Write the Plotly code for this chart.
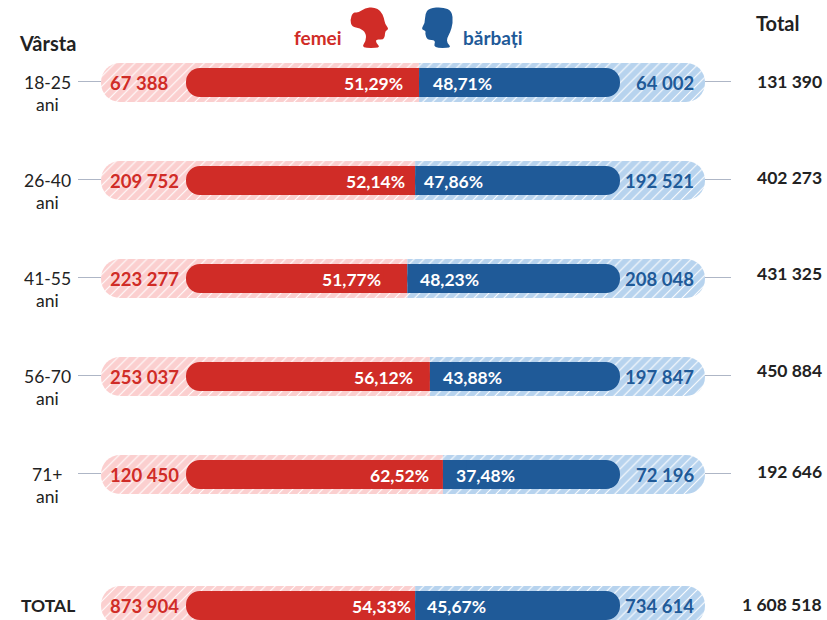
import plotly.graph_objects as go

# ---- data ----
age_groups = ["18-25", "26-40", "41-55", "56-70", "71+", "TOTAL"]
women = ["67 388", "209 752", "223 277", "253 037", "120 450", "873 904"]
men = ["64 002", "192 521", "208 048", "197 847", "72 196", "734 614"]
totals = ["131 390", "402 273", "431 325", "450 884", "192 646", "1 608 518"]
women_pct = ["51,29%", "52,14%", "51,77%", "56,12%", "62,52%", "54,33%"]
men_pct = ["48,71%", "47,86%", "48,23%", "43,88%", "37,48%", "45,67%"]
# share of the dark bar drawn in red, as measured in the picture
drawn_women_share = [53.7, 52.8, 51.0, 56.2, 59.2, 52.8]

# ---- layout ----
W, H = 827, 620
BAR_L, BAR_R = 186, 620
UNIT = (BAR_R - BAR_L) / 100
def X(px):
    return (px - BAR_L) / UNIT

row_y = [82.5, 180.5, 278.5, 376.5, 474.5, 605.5]
RED, BLUE = "#d02c27", "#1f5a98"
PALE_RED, PALE_BLUE = "#fbcfcf", "#b7d3ee"
INK = "#222222"
FONT = "Lato"
pill_l, pill_r = X(101), X(705)

def pill(base, ends, color, radius=19):
    return go.Bar(orientation="h", y=row_y, base=base,
                  x=[e - b for e, b in zip(ends, base)], width=39,
                  marker=dict(color=color, cornerradius=radius, line_width=0,
                              pattern=dict(shape="/", fgcolor="white", bgcolor=color,
                                           size=7, solidity=0.15, fillmode="replace")),
                  hoverinfo="skip", showlegend=False)

def core(base, ends, color, radius=14):
    return go.Bar(orientation="h", y=row_y, base=base,
                  x=[e - b for e, b in zip(ends, base)], width=29,
                  marker=dict(color=color, cornerradius=radius, line_width=0),
                  hoverinfo="skip", showlegend=False)

s = drawn_women_share
n = len(s)
# each side is a rounded bar plus a square-cornered piece that keeps the inner end flat
sq = 24 / UNIT
fig = go.Figure([
    pill(s, [pill_l] * n, PALE_RED),
    pill(s, [pill_r] * n, PALE_BLUE),
    pill(s, [v - sq for v in s], PALE_RED, 0),
    pill(s, [v + sq for v in s], PALE_BLUE, 0),
    core(s, [0] * n, RED),
    core(s, [100] * n, BLUE),
    core(s, [v - sq for v in s], RED, 0),
    core(s, [v + sq for v in s], BLUE, 0),
])

ann = []
def T(px, y, text, color=INK, size=18, bold=True, anchor="center"):
    ann.append(dict(x=X(px), y=y, text=f"<b>{text}</b>" if bold else text, showarrow=False,
                    xanchor=anchor, yanchor="middle", xshift=0,
                    font=dict(family=FONT, size=size, color=color)))

women_gap = [14, 8, 24, 15, 12, 2]
men_gap = [12, 7, 11, 11, 11, 10]
total_dy = [-1, -3, -5, -6, -3, -1]

for i, y in enumerate(row_y):
    split_px = BAR_L + s[i] * UNIT
    T(108, y, women[i], RED, 18.5, True, "left")
    T(696, y, men[i], BLUE, 18.5, True, "right")
    T(split_px - women_gap[i], y + 1, women_pct[i], "white", 17.5, True, "right")
    T(split_px + men_gap[i], y + 1, men_pct[i], "white", 17.5, True, "left")
    T(824, y + total_dy[i], totals[i], INK, 17.5, True, "right")
    if age_groups[i] == "TOTAL":
        T(47.5, y, age_groups[i], INK, 17.5, True)
    else:
        T(47, y, age_groups[i], INK, 17.5, False)
        T(47, y + 22, "ani", INK, 17.5, False)
        for a, b in [(78, 101), (705, 731)]:
            fig.add_shape(type="line", x0=X(a), x1=X(b), y0=y - 1, y1=y - 1,
                          line=dict(color="#aeb6c6", width=1))

T(47, 43, "Vârsta", INK, 20)
T(777, 23, "Total", INK, 20)
T(318, 37, "femei", RED, 19)
T(493, 37, "bărbați", BLUE, 19)

def icon(points, color):
    """Closed silhouette from pixel points, smoothed with quadratic midpoints."""
    pts = [(X(a), b) for a, b in points]
    m = lambda p, q: ((p[0] + q[0]) / 2, (p[1] + q[1]) / 2)
    st = m(pts[-1], pts[0])
    d = f"M{st[0]},{st[1]} "
    for i, p in enumerate(pts):
        e = m(p, pts[(i + 1) % len(pts)])
        d += f"Q{p[0]},{p[1]} {e[0]},{e[1]} "
    fig.add_shape(type="path", path=d + "Z", fillcolor=color, line_width=0)

icon([(350, 20), (353, 12), (358, 13), (365, 8), (374, 7), (381, 11), (384, 18), (385, 24),
      (389, 29), (385, 31), (385, 36), (383, 40), (376, 39), (376, 43), (381, 48), (361, 48),
      (366, 41), (366, 33), (360, 28), (352, 27)], RED)
icon([(425, 14), (429, 8), (443, 7), (452, 11), (453, 23), (450, 33), (447, 38), (447, 43),
      (452, 48), (433, 48), (436, 40), (427, 40), (425, 33), (426, 31), (421, 29), (425, 23)], BLUE)

fig.update_layout(
    width=W, height=H, margin=dict(l=0, r=0, t=0, b=0), autosize=False,
    barmode="overlay", plot_bgcolor="white", paper_bgcolor="white",
    showlegend=False, annotations=ann,
    xaxis=dict(range=[X(0), X(W)], visible=False, fixedrange=True),
    yaxis=dict(range=[H, 0], visible=False, fixedrange=True),
)
fig.write_html("out.html", config={"displayModeBar": False},
               post_script="document.body.style.margin='0';document.body.style.overflow='hidden';")
